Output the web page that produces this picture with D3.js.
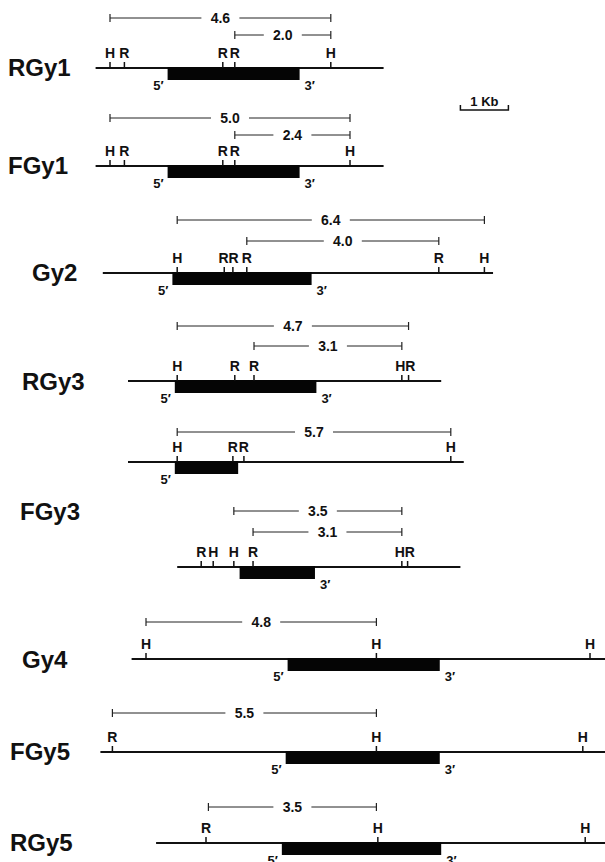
<!DOCTYPE html>
<html>
<head>
<meta charset="utf-8">
<script src="https://cdn.jsdelivr.net/npm/d3@7"></script>
<style>
  body { margin: 0; background: #fff; }
  svg { display: block; }
  text { font-family: "Liberation Sans", Arial, sans-serif; font-weight: bold; fill: #111; }
</style>
</head>
<body>
<svg id="map" width="605" height="862"></svg>
<script>
// Clone names (FGy3 is drawn as two partial clones, one label)
const tracks = ["RGy1", "FGy1", "Gy2", "RGy3", "FGy3a", "FGy3b", "Gy4", "FGy5", "RGy5"];
const labels = ["RGy1", "FGy1", "Gy2", "RGy3", "FGy3", "", "Gy4", "FGy5", "RGy5"];

// extent of each cloned fragment, in kb
const lineStart = [-0.3, -0.3, -0.15, 0.375, 0.375, 1.4, 0.45, -0.2, 0.96];
const lineEnd   = [5.7, 5.7, 7.98, 6.9, 7.37, 7.3, 10.4, 10.4, 10.4];

// coding region (black box), in kb
const geneStart = [1.2, 1.2, 1.3, 1.35, 1.35, 2.7, 3.7, 3.66, 3.58];
const geneEnd   = [3.95, 3.95, 4.2, 4.3, 2.67, 4.27, 6.87, 6.87, 6.9];
const show5 = [true, true, true, true, true, false, true, true, true];
const show3 = [true, true, true, true, false, true, true, true, true];

// restriction sites: H = HindIII, R = EcoRI
const sitesRGy1  = [["H", 0], ["R", 0.3], ["R", 2.35], ["R", 2.6], ["H", 4.6]];
const sitesFGy1  = [["H", 0], ["R", 0.3], ["R", 2.35], ["R", 2.6], ["H", 5.0]];
const sitesGy2   = [["H", 1.4], ["R", 2.38], ["R", 2.56], ["R", 2.85], ["R", 6.85], ["H", 7.8]];
const sitesRGy3  = [["H", 1.4], ["R", 2.6], ["R", 3.0], ["H", 6.08], ["R", 6.22]];
const sitesFGy3a = [["H", 1.4], ["R", 2.56], ["R", 2.79], ["H", 7.1]];
const sitesFGy3b = [["R", 1.9], ["H", 2.15], ["H", 2.58], ["R", 2.98], ["H", 6.08], ["R", 6.2]];
const sitesGy4   = [["H", 0.75], ["H", 5.55], ["H", 10.0]];
const sitesFGy5  = [["R", 0.05], ["H", 5.55], ["H", 9.85]];
const sitesRGy5  = [["R", 2.0], ["H", 5.58], ["H", 9.9]];

// measured distances [from, to, label, level], level 0 = nearest the line
const spansRGy1  = [[2.6, 4.6, "2.0", 0], [0, 4.6, "4.6", 1]];
const spansFGy1  = [[2.6, 5.0, "2.4", 0], [0, 5.0, "5.0", 1]];
const spansGy2   = [[2.85, 6.85, "4.0", 0], [1.4, 7.8, "6.4", 1]];
const spansRGy3  = [[3.0, 6.08, "3.1", 0], [1.4, 6.22, "4.7", 1]];
const spansFGy3a = [[1.4, 7.1, "5.7", 0]];
const spansFGy3b = [[2.98, 6.08, "3.1", 0], [2.58, 6.08, "3.5", 1]];
const spansGy4   = [[0.75, 5.55, "4.8", 0]];
const spansFGy5  = [[0.05, 5.55, "5.5", 0]];
const spansRGy5  = [[2.05, 5.55, "3.5", 0]];

const allSites = [sitesRGy1, sitesFGy1, sitesGy2, sitesRGy3, sitesFGy3a, sitesFGy3b, sitesGy4, sitesFGy5, sitesRGy5];
const allSpans = [spansRGy1, spansFGy1, spansGy2, spansRGy3, spansFGy3a, spansFGy3b, spansGy4, spansFGy5, spansRGy5];

// scale bar
const scaleBarKb = 1;
const scaleBarText = "1 Kb";

// ---- layout ----
const svg = d3.select("#map");
const x = d3.scaleLinear().domain([0, 10]).range([110, 590]);
const y = d3.scaleOrdinal().domain(tracks).range([68, 166, 273, 381, 462, 567, 659, 752, 843]);
const labelPos = [[8, 76], [8, 174], [32, 281], [22, 390], [20, 520], [0, 0], [22, 668], [10, 760], [10, 851]];
const spanGap = [[33, 50], [31, 48], [32, 53], [35, 55], [30, 0], [35, 56], [37, 0], [39, 0], [36, 0]];

const rows = tracks.map((t, i) => ({
  id: t,
  label: labels[i],
  y0: y(t),
  from: lineStart[i], to: lineEnd[i],
  g0: geneStart[i], g1: geneEnd[i],
  five: show5[i], three: show3[i],
  sites: allSites[i].map(([type, kb]) => ({ type, kb })),
  spans: allSpans[i].map(([a, b, txt, lvl]) => ({ a, b, txt, lvl })),
  lab: labelPos[i],
  gap: spanGap[i]
}));

const row = svg.selectAll("g.row")
  .data(rows)
  .enter().append("g")
  .attr("class", "row");

// clone names
row.filter(d => d.label)
  .append("text")
  .attr("x", d => d.lab[0])
  .attr("y", d => d.lab[1])
  .attr("font-size", "24px")
  .text(d => d.label);

// fragment line
row.append("line")
  .attr("x1", d => x(d.from))
  .attr("x2", d => Math.min(x(d.to), 605))
  .attr("y1", d => d.y0)
  .attr("y2", d => d.y0)
  .attr("stroke", "#111")
  .attr("stroke-width", 2);

// gene box
row.append("rect")
  .attr("x", d => x(d.g0))
  .attr("width", d => x(d.g1) - x(d.g0))
  .attr("y", d => d.y0 - 1)
  .attr("height", 13)
  .attr("fill", "#050505");

row.filter(d => d.five).append("text")
  .attr("x", d => x(d.g0) - 4)
  .attr("y", d => d.y0 + 22)
  .attr("text-anchor", "end")
  .attr("font-size", "13px")
  .text("5\u2032");

row.filter(d => d.three).append("text")
  .attr("x", d => x(d.g1) + 5)
  .attr("y", d => d.y0 + 22)
  .attr("font-size", "13px")
  .text("3\u2032");

// restriction sites: ticks
row.selectAll("line.site")
  .data(d => d.sites.map(s => ({ ...s, y0: d.y0 })))
  .enter().append("line")
  .attr("class", "site")
  .attr("x1", d => x(d.kb))
  .attr("x2", d => x(d.kb))
  .attr("y1", d => d.y0 - 6)
  .attr("y2", d => d.y0)
  .attr("stroke", "#111")
  .attr("stroke-width", 1.5);

// site letters, nudged apart where sites are close together
function spreadLabels(sites) {
  const pos = sites.map(s => x(s.kb));
  const minGap = 10;
  for (let it = 0; it < 20; it++) {
    for (let i = 1; i < pos.length; i++) {
      const over = minGap - (pos[i] - pos[i - 1]);
      if (over > 0) {
        pos[i - 1] -= over / 2;
        pos[i] += over / 2;
      }
    }
  }
  return sites.map((s, i) => ({ ...s, lx: pos[i] }));
}

row.selectAll("text.site")
  .data(d => spreadLabels(d.sites).map(s => ({ ...s, y0: d.y0 })))
  .enter().append("text")
  .attr("class", "site")
  .attr("x", d => d.lx)
  .attr("y", d => d.y0 - 10)
  .attr("text-anchor", "middle")
  .attr("font-size", "14px")
  .text(d => d.type);

// distance brackets
const span = row.selectAll("g.span")
  .data(d => d.spans.map(s => ({ ...s, yy: d.y0 - d.gap[s.lvl] })))
  .enter().append("g")
  .attr("class", "span");

span.each(function(d) {
  const g = d3.select(this);
  const x1 = x(d.a), x2 = x(d.b), xm = (x1 + x2) / 2;
  const half = 19;
  g.append("line")
    .attr("x1", x1).attr("x2", xm - half)
    .attr("y1", d.yy).attr("y2", d.yy)
    .attr("stroke", "#222").attr("stroke-width", 1);
  g.append("line")
    .attr("x1", xm + half).attr("x2", x2)
    .attr("y1", d.yy).attr("y2", d.yy)
    .attr("stroke", "#222").attr("stroke-width", 1);
  [x1, x2].forEach(xx => {
    g.append("line")
      .attr("x1", xx).attr("x2", xx)
      .attr("y1", d.yy - 4).attr("y2", d.yy + 4)
      .attr("stroke", "#222").attr("stroke-width", 1.2);
  });
  g.append("text")
    .attr("x", xm)
    .attr("y", d.yy + 5)
    .attr("text-anchor", "middle")
    .attr("font-size", "14px")
    .text(d.txt);
});

// 1 Kb scale bar
const sb0 = 7.3;
const sbY = 110;
svg.append("path")
  .attr("d", `M${x(sb0)},${sbY - 5}V${sbY}H${x(sb0 + scaleBarKb)}V${sbY - 5}`)
  .attr("fill", "none")
  .attr("stroke", "#111")
  .attr("stroke-width", 1.5);
svg.append("text")
  .attr("x", (x(sb0) + x(sb0 + scaleBarKb)) / 2)
  .attr("y", sbY - 4)
  .attr("text-anchor", "middle")
  .attr("font-size", "13px")
  .text(scaleBarText);
</script>
</body>
</html>
